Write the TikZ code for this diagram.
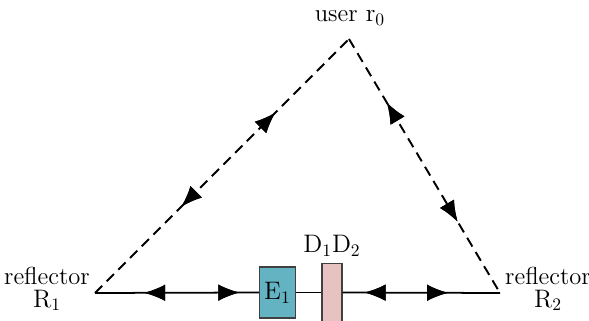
\documentclass[tikz,border=0pt]{standalone}
\usepackage{amsmath}
\usepackage{tikz}
\usetikzlibrary{positioning,arrows.meta,calc,decorations.markings}
\tikzset{
  path/.style={line width=1pt},
  dpath/.style={line width=1.1pt,dash pattern=on 5.8pt off 3.6pt},
  fwd/.style={postaction={decorate},decoration={markings,
      mark=at position #1 with {\arrow{Latex[length=4.2mm,width=3.3mm]}}}},
  bwd/.style={postaction={decorate},decoration={markings,
      mark=at position #1 with {\arrowreversed{Latex[length=4.2mm,width=3.3mm]}}}},
  elem/.style={draw=black!75,line width=0.6pt,inner sep=0pt},
  lbl/.style={font=\fontsize{14}{16}\selectfont,align=center},
}
\definecolor{ecol}{HTML}{63B3C2}
\definecolor{dcol}{HTML}{E6C2C1}

\begin{document}
\begin{tikzpicture}
  \useasboundingbox (0,0) rectangle (11.78,6.42);
  % corners of the triangle
  \coordinate (R1) at (1.9,0.56);
  \coordinate (R2) at (10.0,0.56);
  \coordinate (usr) at (6.98,5.64);
  % dashed legs
  \draw[dpath,fwd=0.71,bwd=0.34] (R1) -- (usr);
  \draw[dpath,bwd=0.25,fwd=0.72] (usr) -- (R2);
  % elements on the base
  \node[elem,fill=ecol,minimum width=0.72cm,minimum height=1.02cm] (E1) at (5.55,0.57) {};
  \node[elem,fill=dcol,minimum width=0.4cm,minimum height=1.16cm] (D) at (6.64,0.57) {};
  \draw[path,bwd=0.3,fwd=0.88] (R1) -- (E1.west);
  \draw[path] (E1.east) -- (D.west);
  \draw[path,bwd=0.14,fwd=0.67] (D.east) -- (R2);
  \node[lbl] at (E1) {$\mathrm{E}_1$};
  \node[lbl,above=0pt of D] (Dl) {$\mathrm{D}_1\mathrm{D}_2$};
  % labels
  \node[lbl] (ul) at (7.0,6.06) {user $\mathrm{r}_0$};
  \node[lbl] (l1) at (0.94,0.64) {reflector\\[-3pt]$\mathrm{R}_1$};
  \node[lbl] (l2) at (10.96,0.64) {reflector\\[-3pt]$\mathrm{R}_2$};
\end{tikzpicture}
\end{document}
